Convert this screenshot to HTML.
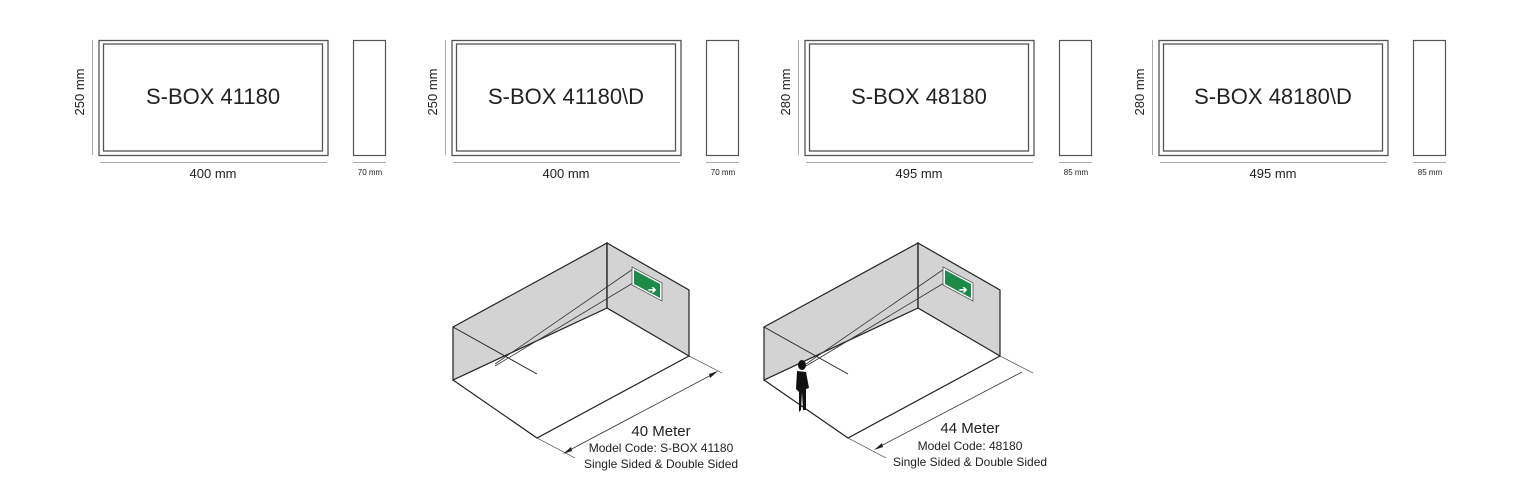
<!DOCTYPE html>
<html><head><meta charset="utf-8"><style>
html,body{margin:0;padding:0;background:#fff;}
svg{display:block;font-family:"Liberation Sans",sans-serif;}
</style></head><body>
<svg width="1526" height="494" viewBox="0 0 1526 494" xmlns="http://www.w3.org/2000/svg">
<defs>
<g id="box">
  <rect x="99" y="40.5" width="229" height="115" fill="none" stroke="#555" stroke-width="1.3"/>
  <rect x="103.5" y="44" width="219" height="107" fill="none" stroke="#555" stroke-width="1.3"/>
  <line x1="92.5" y1="40" x2="92.5" y2="155" stroke="#aaa" stroke-width="1"/>
  <line x1="100" y1="162.5" x2="327" y2="162.5" stroke="#aaa" stroke-width="1"/>
  <rect x="353.5" y="40.5" width="32" height="115" fill="none" stroke="#555" stroke-width="1.2"/>
  <line x1="353" y1="162.5" x2="386" y2="162.5" stroke="#aaa" stroke-width="1"/>
</g>
<g id="room">
  <polygon points="453,327 607,243 607,308 453,380" fill="#d3d3d3" stroke="#222" stroke-width="1.2"/>
  <polygon points="607,243 689,290 689,356 607,308" fill="#d3d3d3" stroke="#222" stroke-width="1.2"/>
  <polyline points="453,380 537,438 689,356" fill="none" stroke="#222" stroke-width="1.2"/>
  <line x1="607" y1="308" x2="607" y2="243" stroke="#222" stroke-width="1.2"/>
  <line x1="453" y1="327" x2="537" y2="374" stroke="#222" stroke-width="1"/>
  <line x1="633" y1="269" x2="495" y2="364" stroke="#333" stroke-width="0.8"/>
  <line x1="633" y1="283" x2="495" y2="366" stroke="#333" stroke-width="0.8"/>
  <polygon points="632,267 662,283 662,301 632,285" fill="#fff" stroke="#555" stroke-width="0.8"/>
  <polygon points="634,270 660,284 660,298 634,284" fill="#1e8a4a"/>
  <text x="648" y="293" font-size="10" fill="#fff" font-weight="bold">➔</text>
  <line x1="537" y1="438" x2="575" y2="458" stroke="#333" stroke-width="0.7"/>
  <line x1="689" y1="356" x2="722" y2="373" stroke="#333" stroke-width="0.7"/>
</g>
</defs>
<g><use href="#box"/></g>
<g transform="translate(353,0)"><use href="#box"/></g>
<g transform="translate(706,0)"><use href="#box"/></g>
<g transform="translate(1060,0)"><use href="#box"/></g>
<g fill="#222">
  <text x="213" y="104" font-size="22" text-anchor="middle">S-BOX 41180</text>
  <text x="566" y="104" font-size="22" text-anchor="middle">S-BOX 41180\D</text>
  <text x="919" y="104" font-size="22" text-anchor="middle">S-BOX 48180</text>
  <text x="1273" y="104" font-size="22" text-anchor="middle">S-BOX 48180\D</text>
  <text x="213" y="178" font-size="13" text-anchor="middle">400 mm</text>
  <text x="566" y="178" font-size="13" text-anchor="middle">400 mm</text>
  <text x="919" y="178" font-size="13" text-anchor="middle">495 mm</text>
  <text x="1273" y="178" font-size="13" text-anchor="middle">495 mm</text>
  <text x="370" y="175" font-size="8" text-anchor="middle">70 mm</text>
  <text x="723" y="175" font-size="8" text-anchor="middle">70 mm</text>
  <text x="1076" y="175" font-size="8" text-anchor="middle">85 mm</text>
  <text x="1430" y="175" font-size="8" text-anchor="middle">85 mm</text>
  <text transform="translate(84,92) rotate(-90)" font-size="13" text-anchor="middle">250 mm</text>
  <text transform="translate(437,92) rotate(-90)" font-size="13" text-anchor="middle">250 mm</text>
  <text transform="translate(790,92) rotate(-90)" font-size="13" text-anchor="middle">280 mm</text>
  <text transform="translate(1144,92) rotate(-90)" font-size="13" text-anchor="middle">280 mm</text>
</g>
<use href="#room"/>
<g transform="translate(311,0)"><use href="#room"/></g>
<!-- person -->
<g fill="#111">
  <ellipse cx="802" cy="365" rx="4" ry="5"/>
  <path d="M797,371 L806,372 L809,388 L806,389 L806,410 L803,410 L802,392 L801,410 L799,412 L799,392 L796,389 Z"/>
</g>
<!-- dim lines -->
<line x1="566" y1="452" x2="715" y2="373" stroke="#333" stroke-width="0.8"/>
<polygon points="563,454 571,447 572,451" fill="#222"/>
<polygon points="718,371 710,378 709,374" fill="#222"/>
<line x1="877" y1="448" x2="1022" y2="372" stroke="#333" stroke-width="0.8"/>
<polygon points="874,450 882,443 883,447" fill="#222"/>
<g fill="#222" text-anchor="middle">
  <text x="661" y="436" font-size="15">40 Meter</text>
  <text x="661" y="452" font-size="12">Model Code: S-BOX 41180</text>
  <text x="661" y="468" font-size="12">Single Sided &amp; Double Sided</text>
  <text x="970" y="433" font-size="15">44 Meter</text>
  <text x="970" y="450" font-size="12">Model Code: 48180</text>
  <text x="970" y="466" font-size="12">Single Sided &amp; Double Sided</text>
</g>
</svg>
</body></html>
